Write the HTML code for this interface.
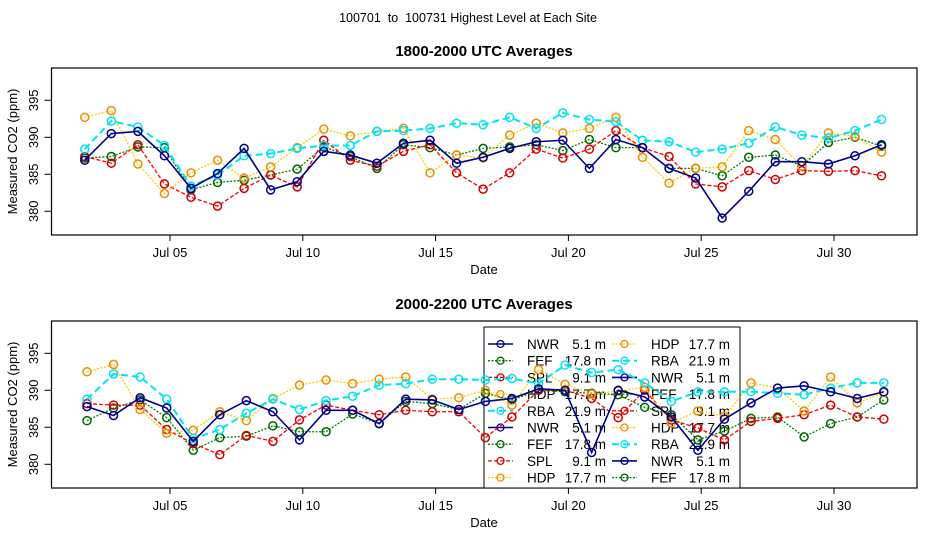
<!DOCTYPE html>
<html><head><meta charset="utf-8"><style>
body{margin:0;background:#fff}
svg{display:block;font-family:"Liberation Sans",sans-serif}
</style></head><body>
<svg id="c" width="936" height="540"></svg>
<script>
const days=[1,2,3,4,5,6,7,8,9,10,11,12,13,14,15,16,17,18,19,20,21,22,23,24,25,26,27,28,29,30,31];
const xTickDays=[5,10,15,20,25,30];
const xTickLabels=["Jul 05","Jul 10","Jul 15","Jul 20","Jul 25","Jul 30"];
const yTicks=[380,385,390,395];
// top panel 1800-2000
const topNWR=[386.9,390.5,390.8,387.5,383.1,385.1,388.5,382.9,384.0,388.1,387.6,386.5,389.2,389.6,386.5,387.3,388.5,389.4,389.6,385.8,389.7,388.6,385.8,384.5,379.1,382.7,386.7,386.7,386.4,387.5,389.0];
const topFEF=[387.2,387.4,388.7,388.6,382.9,383.9,384.2,384.9,385.7,388.7,387.4,385.8,389.0,388.6,387.6,388.5,388.7,389.0,388.2,389.7,388.6,388.6,385.8,385.8,384.8,387.3,387.6,386.1,389.3,390.0,388.8];
const topSPL=[387.4,386.5,389.0,383.7,381.9,380.7,383.1,384.9,383.3,389.6,386.9,386.1,388.1,389.0,385.2,383.0,385.2,388.4,387.2,388.4,390.9,388.6,387.4,383.7,383.3,385.5,384.3,385.5,385.4,385.5,384.8];
const topHDP=[392.7,393.6,386.4,382.4,385.2,386.9,384.5,386.0,388.6,391.1,390.2,390.8,391.2,385.2,387.6,387.2,390.3,391.9,390.6,391.2,392.7,387.3,383.8,385.8,386.0,390.9,389.7,386.1,390.6,390.1,388.0];
const topRBA=[388.4,392.2,391.4,388.9,383.4,384.9,387.5,387.8,388.5,388.9,388.9,390.8,390.9,391.2,391.9,391.7,392.7,391.2,393.3,392.4,392.1,389.6,389.4,388.0,388.4,389.2,391.4,390.3,389.9,390.9,392.4];
// bottom panel 2000-2200
const botNWR=[387.8,386.6,389.0,387.6,383.1,386.7,388.6,387.1,383.3,387.3,387.3,385.5,388.8,388.7,387.4,388.5,388.9,390.2,390.0,381.6,390.0,389.1,386.4,381.9,386.1,388.3,390.3,390.6,389.8,388.9,389.8];
const botFEF=[385.9,387.6,388.7,386.3,381.9,383.6,383.8,385.2,384.4,384.4,386.8,385.5,388.5,388.2,387.4,389.6,388.7,390.0,389.8,389.6,389.4,387.7,386.7,383.3,384.5,386.2,386.4,383.7,385.5,386.4,388.7];
const botSPL=[388.2,388.0,388.0,384.7,382.8,381.3,383.9,383.1,386.0,388.0,387.3,386.7,387.3,387.1,387.1,383.6,386.4,390.0,390.0,388.9,386.3,390.0,386.0,384.9,383.3,385.8,386.2,386.7,388.0,386.4,386.1];
const botHDP=[392.5,393.5,387.4,384.2,384.6,387.1,385.9,388.9,390.7,391.4,390.9,391.5,391.8,388.8,389.0,390.0,388.0,392.8,390.8,389.5,389.9,390.4,385.6,387.2,386.5,391.0,390.3,387.2,391.8,388.3,389.7];
const botRBA=[388.8,392.2,391.8,388.8,383.5,384.7,386.9,388.8,387.4,388.6,389.2,390.7,390.9,391.5,391.5,391.4,391.6,390.9,393.4,392.4,392.8,391.0,388.5,389.8,389.8,389.8,389.6,389.4,390.3,391.0,391.0];
const legendSites=["NWR","FEF","SPL","HDP","RBA","NWR","FEF","SPL","HDP","HDP","RBA","NWR","FEF","SPL","HDP","RBA","NWR","FEF"];
const legendHeights=["5.1 m","17.8 m","9.1 m","17.7 m","21.9 m","5.1 m","17.8 m","9.1 m","17.7 m","17.7 m","21.9 m","5.1 m","17.8 m","9.1 m","17.7 m","21.9 m","5.1 m","17.8 m"];

const NS="http://www.w3.org/2000/svg";
const svg=document.getElementById('c');
function mk(t,a,p){const e=document.createElementNS(NS,t);for(const k in a)e.setAttribute(k,a[k]);(p||svg).appendChild(e);return e;}
const styles={
 NWR:{c:"#00008b",m:"#00008b",w:1.6,d:""},
 FEF:{c:"#008000",m:"#006400",w:1.3,d:"2,1.5"},
 SPL:{c:"#ff0000",m:"#cc0000",w:1.3,d:"4,2"},
 HDP:{c:"#ffcc00",m:"#e89000",w:1.3,d:"2,1.5"},
 RBA:{c:"#00e5ee",m:"#00e5ee",w:2,d:"7,4"}
};
const X0=51.5,X1=917;
function xs(d){return 170+(d-5)*26.56;}
function mkY(off){return v=>137.3+off-(v-390)*7.4;}

function panel(off,title,frac,series){
 const ys=mkY(off);
 const top=68+off,bot=235+off;
 const g=mk('g',{});
 
 
 const t=mk('text',{x:484,y:56+off,'text-anchor':'middle','font-size':15,'font-weight':'bold'},g);t.textContent=title;
 
 mk('rect',{x:X0,y:top,width:X1-X0,height:bot-top,fill:'none',stroke:'#000','stroke-width':1.2},g);
 xTickDays.forEach((d,i)=>{
  const x=xs(d);
  mk('line',{x1:x,x2:x,y1:bot,y2:bot+6,stroke:'#000'},g);
  const l=mk('text',{x:x,y:bot+22,'text-anchor':'middle','font-size':13},g);l.textContent=xTickLabels[i];
  
 });
 yTicks.forEach(v=>{
  const y=ys(v);
  mk('line',{x1:X0,x2:X0-7,y1:y,y2:y,stroke:'#000'},g);
  const l=mk('text',{x:38,y:y,'text-anchor':'middle','font-size':13,transform:`rotate(-90 38 ${y})`},g);l.textContent=v;
  
 });
 const xl=mk('text',{x:484,y:bot+39,'text-anchor':'middle','font-size':13},g);xl.textContent='Date';
 
 const yc=(top+bot)/2;
 const yl=mk('text',{x:17,y:yc,'text-anchor':'middle','font-size':13,transform:`rotate(-90 17 ${yc})`},g);yl.textContent='Measured CO2 (ppm)';
 
 if(off) legend(g);
 series.forEach(([name,vals])=>{
  const s=styles[name];
  const pts=vals.map((v,i)=>[xs(days[i]+frac),ys(v)]);
  const pl=mk('polyline',{points:pts.map(p=>p.join(',')).join(' '),fill:'none',stroke:s.c,'stroke-width':s.w,'stroke-dasharray':s.d},g);
  
  
  pts.forEach(p=>{
   const c=mk('circle',{cx:p[0],cy:p[1],r:4,fill:'#fff','fill-opacity':0,stroke:s.m,'stroke-width':1.5},g);
   
   
  });
 });
}
function legend(g){
 const lg=mk('g',{},g);
 
 
 mk('rect',{x:484,y:327,width:256,height:161,fill:'#fff',stroke:'#000','stroke-width':1},lg);
 legendSites.forEach((s,i)=>{
  const col=i<9?0:1,row=i<9?i:i-9;
  const y=344+row*16.7, x0=col?612:488;
  const st=styles[s];
  const e=mk('g',{},lg);
  
  
  mk('line',{x1:x0,x2:x0+25,y1:y,y2:y,stroke:st.c,'stroke-width':st.w,'stroke-dasharray':st.d},e);
  mk('circle',{cx:x0+12.5,cy:y,r:3.5,fill:'none',stroke:st.m,'stroke-width':1.3},e);
  const t1=mk('text',{x:x0+39,y:y+5,'font-size':13.5},e);t1.textContent=s;
  const t2=mk('text',{x:x0+118,y:y+5,'font-size':13.5,'text-anchor':'end'},e);t2.textContent=legendHeights[i];
 });
}
const mt=mk('text',{x:468,y:22,'text-anchor':'middle','font-size':12.5,style:'white-space:pre'});
mt.textContent='100701  to  100731 Highest Level at Each Site';


panel(0,'1800-2000 UTC Averages',0.79,[["FEF",topFEF],["SPL",topSPL],["HDP",topHDP],["RBA",topRBA],["NWR",topNWR]]);
panel(253,'2000-2200 UTC Averages',0.875,[["FEF",botFEF],["SPL",botSPL],["HDP",botHDP],["RBA",botRBA],["NWR",botNWR]]);
</script>
</body></html>
